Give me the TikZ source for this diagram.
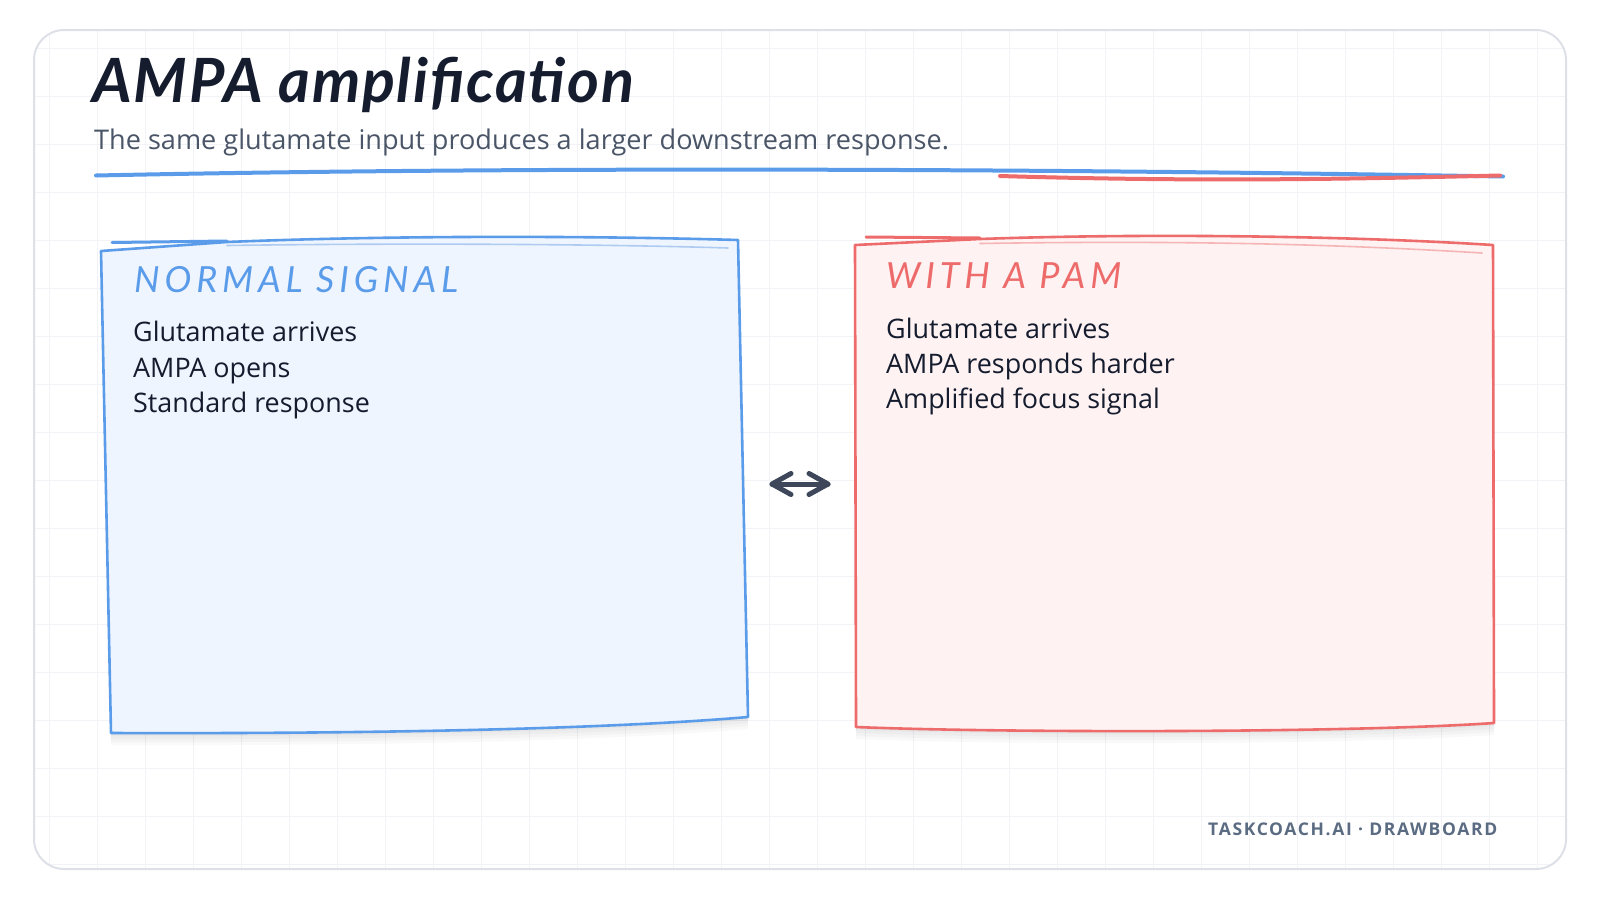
\documentclass[tikz,border=0pt]{standalone}
\usepackage{fontspec}
\setmainfont{Open Sans}
\newfontfamily\titlehand{Lato}[LetterSpace=3]
\newfontfamily\lblhand{Lato}[LetterSpace=13.5]
\newfontfamily\footfont{Open Sans}[LetterSpace=9.5]
\usetikzlibrary{calc}
\definecolor{gridc}{HTML}{F1F3F6}
\definecolor{cardb}{HTML}{DDE1E7}
\definecolor{blueS}{HTML}{5B9CEA}
\definecolor{blueF}{HTML}{EEF5FE}
\definecolor{blueL}{HTML}{AFCBF2}
\definecolor{redS}{HTML}{EE6B6B}
\definecolor{redF}{HTML}{FEF2F2}
\definecolor{redL}{HTML}{F5B5B5}
\definecolor{ink}{HTML}{141C2E}
\definecolor{subc}{HTML}{4A5568}
\definecolor{footc}{HTML}{5B6B82}
\definecolor{arrc}{HTML}{3D4759}
\tikzset{
  titlefont/.style={inner sep=0pt, anchor=base west, text=ink, font=\titlehand\bfseries\itshape\fontsize{61}{70}\selectfont},
  subfont/.style={inner sep=0pt, anchor=base west, text=subc, font=\fontsize{27.1}{32}\selectfont},
  lblfont/.style={inner sep=0pt, anchor=base west, font=\lblhand\itshape\fontsize{36}{42}\selectfont},
  bodyfont/.style={inner sep=0pt, anchor=base west, text=ink, font=\fontsize{26.9}{32}\selectfont},
  footfontst/.style={inner sep=0pt, anchor=base west, text=footc, font=\footfont\bfseries\fontsize{17.5}{20}\selectfont},
  sketch/.style={line width=2.6pt, line join=round, line cap=round},
  shade1/.style={fill=black, opacity=0.025},
}
\begin{document}
\begin{tikzpicture}[x=1pt,y=-1pt]
\useasboundingbox (0,0) rectangle (1600,900);
\fill[white] (0,0) rectangle (1600,900);
% card
\begin{scope}
  \clip[rounded corners=30pt] (34,30) rectangle (1566,869);
  \fill[white] (0,0) rectangle (1600,900);
  \foreach \x in {49,97,...,1585} \draw[gridc, line width=1pt] (\x,0) -- (\x,900);
  \foreach \y in {48,96,...,864} \draw[gridc, line width=1pt] (0,\y) -- (1600,\y);
\end{scope}
\draw[cardb, line width=2pt, rounded corners=30pt] (34,30) rectangle (1566,869);

% title and subtitle
\node[titlefont] (title) at (92,102) {AMPA amplification};
\node[subfont] (subtitle) at (94,149) {The same glutamate input produces a larger downstream response.};
\draw[blueS, line width=4pt, line cap=round] (96,175.5) .. controls (500,167) and (1000,168) .. (1503,176.5);
\draw[redS, line width=4pt, line cap=round] (1000,176) .. controls (1200,182) and (1350,179) .. (1500,175.5);

% left box shadow + box
\foreach \d in {3,6,9,12}{
  \fill[shade1] (101,251+\d) -- (738,240+\d) -- (748,717+\d) .. controls (620,728+\d) and (400,734+\d) .. (111,733+\d) -- cycle;
}
\filldraw[sketch, draw=blueS, fill=blueF] (101,251) -- (227,242) .. controls (400,235) and (600,236) .. (738,240) -- (748,717) .. controls (620,728) and (400,734) .. (111,733) -- cycle;
\draw[blueS, line width=3pt, line cap=round] (112,242.5) -- (227,241);
\draw[blueL, line width=1.6pt, line cap=round] (227,245.5) .. controls (400,243) and (600,244) .. (728,248);

% right box shadow + box
\foreach \d in {3,6,9,12}{
  \fill[shade1] (855,245+\d) -- (1493,245+\d) -- (1494,723+\d) .. controls (1350,733+\d) and (1000,733+\d) .. (856,727+\d) -- cycle;
}
\filldraw[sketch, draw=redS, fill=redF] (855,245) -- (980,239) .. controls (1150,233) and (1350,236) .. (1493,245) -- (1494,723) .. controls (1350,733) and (1000,733) .. (856,727) -- cycle;
\draw[redS, line width=3pt, line cap=round] (866,237) -- (980,238);
\draw[redL, line width=1.6pt, line cap=round] (980,243.5) .. controls (1200,240) and (1350,245) .. (1482,253);

% box texts
\node[lblfont, text=blueS] (nlabel) at (134,292.7) {NORMAL SIGNAL};
\node[bodyfont] (n1) at (133,341.7) {Glutamate arrives};
\node[bodyfont] (n2) at (133,377.3) {AMPA opens};
\node[bodyfont] (n3) at (133,412.7) {Standard response};

\node[lblfont, text=redS] (plabel) at (886,288.3) {WITH A PAM};
\node[bodyfont] (p1) at (886,338.3) {Glutamate arrives};
\node[bodyfont] (p2) at (886,373.3) {AMPA responds harder};
\node[bodyfont] (p3) at (886,408.3) {Amplified focus signal};

% double arrow
\coordinate (aL) at (772,484);
\coordinate (aR) at (828,484);
\draw[arrc, line width=5pt, line cap=round, line join=round] (aL) -- (aR);
\draw[arrc, line width=5pt, line cap=round, line join=round] ($(aL)+(19,-10.5)$) -- (aL) -- ($(aL)+(19,10.5)$);
\draw[arrc, line width=5pt, line cap=round, line join=round] ($(aR)+(-19,-10.5)$) -- (aR) -- ($(aR)+(-19,10.5)$);

% footer
\node[footfontst] (footer) at (1208,835.7) {TASKCOACH.AI · DRAWBOARD};
\end{tikzpicture}
\end{document}
